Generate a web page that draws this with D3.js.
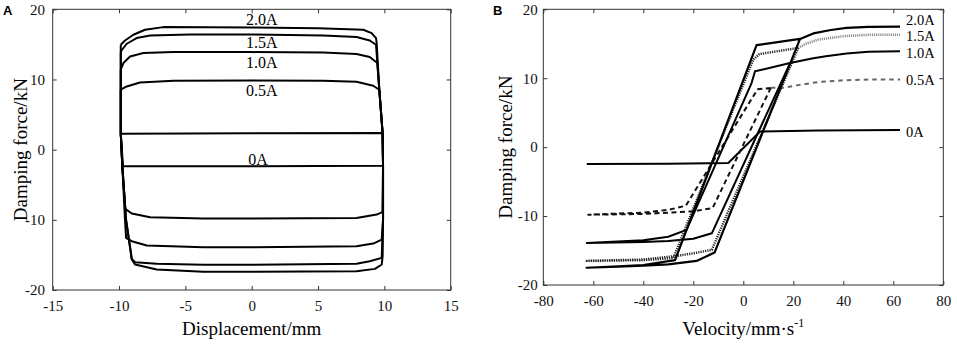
<!DOCTYPE html>
<html><head><meta charset="utf-8">
<script src="https://cdn.jsdelivr.net/npm/d3@7"></script>
<style>body{margin:0;background:#fff} svg{display:block}</style>
</head><body><svg id="c" width="957" height="348"></svg>
<script>
// ---------- data ----------
const currentLabels = ["0A", "0.5A", "1.0A", "1.5A", "2.0A"];
const xTicksA = [-15, -10, -5, 0, 5, 10, 15];
const xTicksB = [-80, -60, -40, -20, 0, 20, 40, 60, 80];
const yTicks = [-20, -10, 0, 10, 20];

// Panel A: force vs displacement loops [displacement mm, force kN]
const loopA_0A = [[-9.87,2.28],[0,2.35],[9.87,2.37],[9.9,-2.28],[0,-2.37],[-9.7,-2.37],[-9.87,2.28]];
const loopA_05A = [[-9.87,8.54],[-9.42,9.01],[-8.42,9.58],[-5.9,9.82],[0,9.85],[5.4,9.82],[7.9,9.68],[9.16,9.11],[9.62,8.54],
  [9.87,2.3],[9.9,-2.3],[9.85,-8.9],[9.42,-9.25],[7.9,-9.73],[0,-9.8],[-3.65,-9.82],[-7.66,-9.63],[-9.04,-9.1],[-9.53,-8.44],
  [-9.75,-2.4],[-9.87,2.3],[-9.87,8.54]];
const loopA_10A = [[-9.87,11.39],[-9.67,12.34],[-9.17,13.28],[-8.17,13.76],[-5.9,13.9],[0,13.9],[5.4,13.85],[7.9,13.62],[8.9,13.19],[9.47,12.34],
  [9.62,8.5],[9.87,2.3],[9.9,-2.3],[9.9,-10],[9.8,-12.81],[9.16,-13.38],[7.9,-13.76],[0,-13.9],[-3.65,-13.9],[-7.91,-13.67],[-9.04,-13.05],[-9.47,-12.57],
  [-9.55,-10],[-9.75,-2.4],[-9.87,2.3],[-9.87,11.39]];
const loopA_15A = [[-9.87,14.0],[-9.42,15.09],[-8.67,15.9],[-7.66,16.27],[-4.65,16.4],[0,16.4],[5.4,16.27],[7.9,16.04],[8.9,15.56],[9.37,14.95],
  [9.62,8.5],[9.87,2.3],[9.9,-2.3],[9.9,-10],[9.8,-15.42],[8.9,-15.9],[7.9,-16.27],[0,-16.4],[-3.65,-16.41],[-7.16,-16.27],[-8.79,-16.04],[-9.04,-15.56],
  [-9.47,-10],[-9.75,-2.4],[-9.87,2.3],[-9.87,14.0]];
const loopA_20A = [[-9.87,14.95],[-9.55,15.56],[-8.92,16.37],[-8.04,17.08],[-6.66,17.46],[0,17.4],[5,17.3],[8.41,17.08],[9.04,16.6],[9.37,15.9],[9.42,15.2],
  [9.62,8.5],[9.87,2.3],[9.9,-2.3],[9.9,-10],[9.87,-15.19],[9.8,-16.37],[9.29,-16.99],[7.9,-17.32],[0,-17.4],[-3.65,-17.41],[-7.16,-17.08],[-8.79,-16.37],[-9.04,-15.66],
  [-9.47,-10],[-9.75,-2.4],[-9.87,2.3],[-9.87,14.95]];

// Panel B: force vs velocity [velocity mm/s, force kN]
// loops (middle part + left plateau) and right-hand plateaus drawn separately
const loopB_0A = [[-62.6,-2.45],[-30,-2.4],[-6,-2.3],[6.7,2.27],[30,2.4],[62.7,2.5]];
const loopB_05A = [[11,8.6],[-12.3,-8.85],[-20,-9.3],[-30,-9.5],[-40,-9.7],[-62,-9.8],[-40,-9.5],[-30,-9.1],[-23,-8.5],
  [5.7,8.4],[11,8.6]];
const plateauB_05A = [[11,8.6],[16,8.6],[22,9.0],[30,9.45],[40,9.7],[50,9.8],[62.7,9.8]];
const loopB_10A = [[62.7,13.9],[50,13.85],[41.3,13.6],[33,13.2],[28,12.9],[18.7,12.2],
  [-12.6,-12.5],[-20,-13.3],[-30,-13.6],[-40,-13.75],[-62.6,-13.9],[-40,-13.5],[-30,-13.0],[-22.7,-12.0],
  [3.3,9.3],[4.7,11.0],[18.7,12.2]];
const loopB_15A = [[22,14.4],[-12.6,-14.9],[-20,-15.4],[-27,-15.8],[-40,-16.3],[-62.6,-16.5],[-40,-16.4],[-28,-16.1],
  [4,12.7],[6.4,13.5],[22,14.4]];
const plateauB_15A = [[22,14.4],[25,15.0],[30,15.6],[40,16.1],[50,16.3],[62.7,16.3]];
const loopB_20A = [[62.7,17.5],[50,17.45],[41.3,17.3],[35,17.0],[28,16.5],[22.7,15.7],
  [-11.5,-15.3],[-18.7,-16.5],[-30,-17.0],[-40,-17.2],[-50,-17.35],[-62.7,-17.5],[-50,-17.3],[-40,-17.1],[-27.3,-16.4],
  [5.3,14.8],[22.7,15.7]];

// label anchor positions (data units)
const labelPosA = [[-0.26,-2.2],[-0.43,7.7],[-0.43,11.7],[-0.43,14.5],[-0.43,17.7]];
const labelPosB = [[65.1,1.5],[65.1,9.0],[65.1,12.9],[65.1,15.4],[65.1,17.7]];

// ---------- drawing ----------
const svg = d3.select("#c");
const serif = "'Liberation Serif','Times New Roman',serif";
const fmt = d => String(d);

function frame(g, x, y, xt, yt, padX, padY) {
  const [x0, x1] = x.range(), [y1, y0] = y.range();
  g.append("g").attr("transform", `translate(0,${y1})`)
    .call(d3.axisBottom(x).tickValues(xt).tickFormat(fmt).tickSizeInner(-4).tickSizeOuter(0).tickPadding(padX))
    .call(s => s.select(".domain").remove());
  g.append("g").attr("transform", `translate(0,${y0})`)
    .call(d3.axisTop(x).tickValues(xt).tickSizeInner(-4).tickSizeOuter(0).tickFormat(""))
    .call(s => s.select(".domain").remove());
  g.append("g").attr("transform", `translate(${x0},0)`)
    .call(d3.axisLeft(y).tickValues(yt).tickFormat(fmt).tickSizeInner(-4).tickSizeOuter(0).tickPadding(padY))
    .call(s => s.select(".domain").remove());
  g.append("g").attr("transform", `translate(${x1},0)`)
    .call(d3.axisRight(y).tickValues(yt).tickSizeInner(-4).tickSizeOuter(0).tickFormat(""))
    .call(s => s.select(".domain").remove());
  g.selectAll(".tick line").attr("stroke", "#333");
  g.selectAll(".tick text").attr("font-family", serif).attr("font-size", 15).attr("fill", "#111");
  g.append("rect").attr("x", x0).attr("y", y0).attr("width", x1 - x0).attr("height", y1 - y0)
    .attr("fill", "none").attr("stroke", "#333").attr("stroke-width", 1);
}

// Panel A
const xA = d3.scaleLinear().domain([-15, 15]).range([52.7, 450.7]);
const yA = d3.scaleLinear().domain([-20, 20]).range([290, 9.3]);
const gA = svg.append("g");
frame(gA, xA, yA, xTicksA, yTicks, 10, 7.7);
const lineA = d3.line().x(d => xA(d[0])).y(d => yA(d[1]));
const loopsA = [loopA_0A, loopA_05A, loopA_10A, loopA_15A, loopA_20A];
gA.selectAll("path.loop").data(loopsA).join("path").attr("class", "loop")
  .attr("d", lineA).attr("fill", "none").attr("stroke", "#000").attr("stroke-width", 2)
  .attr("stroke-linejoin", "round");
gA.selectAll("text.lab").data(currentLabels).join("text").attr("class", "lab")
  .attr("x", (d, i) => xA(labelPosA[i][0])).attr("y", (d, i) => yA(labelPosA[i][1]))
  .attr("font-family", serif).attr("font-size", 16).text(d => d);
gA.append("text").attr("x", xA(0)).attr("y", 335).attr("text-anchor", "middle")
  .attr("font-family", serif).attr("font-size", 19).text("Displacement/mm");
gA.append("text").attr("transform", `translate(27,${yA(0)}) rotate(-90)`).attr("text-anchor", "middle")
  .attr("font-family", serif).attr("font-size", 19).text("Damping force/kN");
svg.append("text").attr("x", 3).attr("y", 15).attr("font-family", "'Liberation Sans',Arial,sans-serif")
  .attr("font-weight", "bold").attr("font-size", 13).text("A");

// Panel B
const xB = d3.scaleLinear().domain([-80, 80]).range([543.3, 943.3]);
const yB = d3.scaleLinear().domain([-20, 20]).range([285, 9.3]);
const gB = svg.append("g");
frame(gB, xB, yB, xTicksB, yTicks, 10, 5.5);
const lineB = d3.line().x(d => xB(d[0])).y(d => yB(d[1]));
const pathsB = [
  {d: loopB_0A, stroke: "#000", w: 2, dash: null},
  {d: loopB_05A, stroke: "#111", w: 2, dash: "5,3.5"},
  {d: plateauB_05A, stroke: "#666", w: 2, dash: "4.5,4"},
  {d: loopB_10A, stroke: "#000", w: 2, dash: null},
  {d: loopB_15A, stroke: "#222", w: 2.4, dash: "1.2,1.1"},
  {d: plateauB_15A, stroke: "#888", w: 2.6, dash: "1.1,1"},
  {d: loopB_20A, stroke: "#000", w: 2.2, dash: null}
];
gB.selectAll("path.loop").data(pathsB).join("path").attr("class", "loop")
  .attr("d", p => lineB(p.d)).attr("fill", "none")
  .attr("stroke", p => p.stroke).attr("stroke-width", p => p.w)
  .attr("stroke-dasharray", p => p.dash).attr("stroke-linejoin", "round");
gB.selectAll("text.lab").data(currentLabels).join("text").attr("class", "lab")
  .attr("x", (d, i) => xB(labelPosB[i][0])).attr("y", (d, i) => yB(labelPosB[i][1]))
  .attr("font-family", serif).attr("font-size", 14.5).text(d => d);
const tB = gB.append("text").attr("x", xB(0)).attr("y", 335).attr("text-anchor", "middle")
  .attr("font-family", serif).attr("font-size", 19);
tB.append("tspan").text("Velocity/mm·s");
tB.append("tspan").attr("dy", -8).attr("font-size", 12).text("-1");
gB.append("text").attr("transform", `translate(512,${yB(0)}) rotate(-90)`).attr("text-anchor", "middle")
  .attr("font-family", serif).attr("font-size", 19).text("Damping force/kN");
svg.append("text").attr("x", 493).attr("y", 15).attr("font-family", "'Liberation Sans',Arial,sans-serif")
  .attr("font-weight", "bold").attr("font-size", 13).text("B");
</script></body></html>
